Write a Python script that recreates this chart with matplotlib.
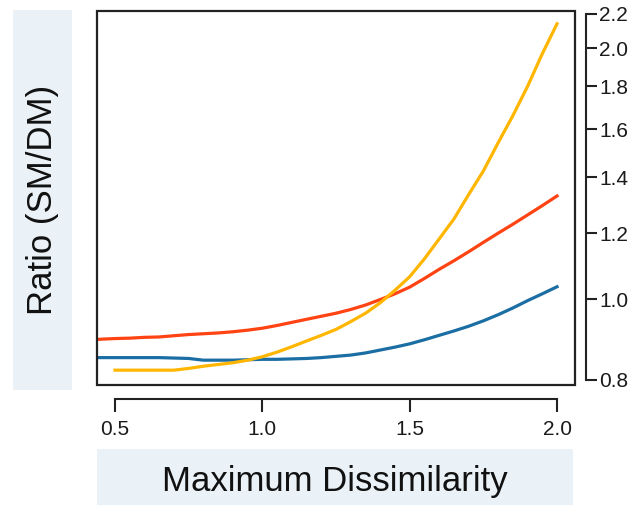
import matplotlib
matplotlib.use("Agg")
import matplotlib.pyplot as plt
from matplotlib.patches import Rectangle
from matplotlib.ticker import NullLocator, FixedLocator, FixedFormatter

plt.rcParams['font.family'] = ['Liberation Sans', 'DejaVu Sans']

# Data
x_grid = [0.5, 0.55, 0.6, 0.65, 0.7, 0.75, 0.8, 0.85, 0.9, 0.95, 1.0, 1.05, 1.1, 1.15,
          1.2, 1.25, 1.3, 1.35, 1.4, 1.45, 1.5, 1.55, 1.6, 1.65, 1.7, 1.75, 1.8, 1.85,
          1.9, 1.95, 2.0]
x_full = [0.44] + x_grid

yellow = [0.822, 0.822, 0.822, 0.822, 0.822, 0.826, 0.831, 0.835, 0.839, 0.845, 0.853,
          0.864, 0.877, 0.891, 0.905, 0.920, 0.940, 0.962, 0.990, 1.025, 1.064, 1.118,
          1.181, 1.248, 1.335, 1.425, 1.540, 1.660, 1.800, 1.970, 2.140]
red = [0.895, 0.897, 0.898, 0.900, 0.901, 0.904, 0.907, 0.909, 0.911, 0.914, 0.918, 0.923,
       0.930, 0.938, 0.946, 0.954, 0.962, 0.972, 0.984, 0.999, 1.015, 1.034, 1.059,
       1.086, 1.112, 1.140, 1.170, 1.200, 1.230, 1.262, 1.295, 1.330]
blue = [0.851, 0.851, 0.851, 0.851, 0.851, 0.850, 0.849, 0.845, 0.845, 0.845, 0.846, 0.847,
        0.847, 0.848, 0.849, 0.851, 0.854, 0.857, 0.862, 0.869, 0.876, 0.884, 0.894,
        0.905, 0.916, 0.928, 0.942, 0.958, 0.976, 0.996, 1.015, 1.035]

yticks = [0.8, 1.0, 1.2, 1.4, 1.6, 1.8, 2.0, 2.2]
ytick_labels = ['0.8', '1.0', '1.2', '1.4', '1.6', '1.8', '2.0', '2.2']
xticks = [0.5, 1.0, 1.5, 2.0]
xtick_labels = ['0.5', '1.0', '1.5', '2.0']

W, H = 635, 505
fig = plt.figure(figsize=(W / 100, H / 100), dpi=100)

# Label background boxes
fig.add_artist(Rectangle((13 / W, 1 - 390 / H), (72 - 13) / W, (390 - 10) / H,
                         transform=fig.transFigure, facecolor='#eaf2f7', edgecolor='none', zorder=0))
fig.add_artist(Rectangle((97 / W, 0), (573 - 97) / W, (505 - 449) / H,
                         transform=fig.transFigure, facecolor='#eaf2f7', edgecolor='none', zorder=0))

ax = fig.add_axes([97 / W, 1 - 385 / H, (575 - 97) / W, (385 - 10.5) / H])
ax.set_yscale('log')

lw = 2.3
ax.plot(x_full, blue, color='#1b6ea3', lw=lw, zorder=3)
ax.plot(x_full, red, color='#ff4313', lw=lw, zorder=3)
ax.plot(x_grid, yellow, color='#ffb600', lw=lw, zorder=3)

ax.set_xlim(0.4389, 2.061)
ax.set_ylim(0.789, 2.22)

for s in ['left', 'top']:
    ax.spines[s].set_visible(False)
ax.spines['right'].set_position(('outward', 8))
ax.spines['right'].set_bounds(0.8, 2.2)
ax.spines['bottom'].set_position(('outward', 10))
ax.spines['bottom'].set_bounds(0.5, 2.0)
for s in ['right', 'bottom']:
    ax.spines[s].set_linewidth(1.5)
    ax.spines[s].set_color('#222222')

ax.add_patch(Rectangle((0, 0), 1, 1, transform=ax.transAxes, fill=False,
                       lw=1.6, edgecolor='#222222', clip_on=False, zorder=5))

ax.yaxis.tick_right()
ax.yaxis.set_major_locator(FixedLocator(yticks))
ax.yaxis.set_major_formatter(FixedFormatter(ytick_labels))
ax.yaxis.set_minor_locator(NullLocator())
ax.set_xticks(xticks)
ax.set_xticklabels(xtick_labels)

ax.tick_params(axis='y', which='major', direction='out', length=8, width=1.5,
               pad=1.5, labelsize=15, colors='#222222', labelcolor='#1a1a1a')
ax.tick_params(axis='x', which='major', direction='out', length=9.5, width=1.5,
               pad=6, labelsize=15, colors='#222222', labelcolor='#1a1a1a')

fig.text(42.5 / W, 1 - 200 / H, 'Ratio (SM/DM)', rotation=90, ha='center', va='center',
         fontsize=25, color='#111111')
fig.text(335 / W, 1 - 481 / H, 'Maximum Dissimilarity', ha='center', va='center',
         fontsize=25, color='#111111')

fig.savefig('out.png', dpi=100)
